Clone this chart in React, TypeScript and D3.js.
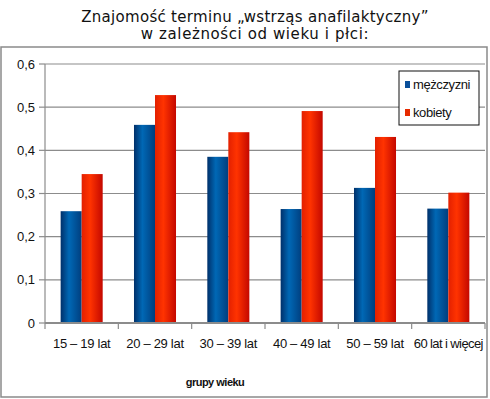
import React from "react";
import * as d3 from "d3";

const categories = ["15 – 19 lat", "20 – 29 lat", "30 – 39 lat", "40 – 49 lat", "50 – 59 lat", "60 lat i więcej"];
const series = ["mężczyzni", "kobiety"];
const men = [0.259, 0.459, 0.385, 0.264, 0.313, 0.265];
const women = [0.345, 0.528, 0.442, 0.491, 0.431, 0.302];
const yTicks = [0, 0.1, 0.2, 0.3, 0.4, 0.5, 0.6];

const width = 490;
const height = 399;
const margin = { top: 64, right: 5, bottom: 76, left: 45 };

const App = () => {
  const x0 = d3
    .scaleBand()
    .domain(categories)
    .range([margin.left, width - margin.right]);

  const x1 = d3
    .scaleBand()
    .domain(series)
    .range([0, x0.bandwidth()])
    .paddingOuter(0.745)
    .paddingInner(0);

  const y = d3
    .scaleLinear()
    .domain([0, 0.6])
    .range([height - margin.bottom, margin.top]);

  const fmt = (v) => d3.format(".1f")(v).replace(".", ",").replace(/^0,0$/, "0");
  const values = [men, women];
  const fills = ["url(#gBlue)", "url(#gRed)"];
  const swatch = ["#0a4f9a", "#e62a00"];

  return (
    <svg
      width={width}
      height={height}
      style={{ position: "absolute", left: 0, top: 0, background: "#fff" }}
      fontFamily="Liberation Sans, Arial, sans-serif"
    >
      <defs>
        <linearGradient id="gBlue" x1="0" x2="1" y1="0" y2="0">
          <stop offset="0" stopColor="#00306a" />
          <stop offset="0.4" stopColor="#0068b5" />
          <stop offset="1" stopColor="#003e7e" />
        </linearGradient>
        <linearGradient id="gRed" x1="0" x2="1" y1="0" y2="0">
          <stop offset="0" stopColor="#e32000" />
          <stop offset="0.4" stopColor="#ff3300" />
          <stop offset="1" stopColor="#c40800" />
        </linearGradient>
      </defs>

      {/* title */}
      <g fontFamily="DejaVu Sans, sans-serif" fontSize={15} fill="#111" textAnchor="middle">
        <text x={255} y={22} letterSpacing={0.3}>
          Znajomość terminu „wstrząs anafilaktyczny”
        </text>
        <text x={255} y={39} letterSpacing={0.6}>
          w zależności od wieku i płci:
        </text>
      </g>

      {/* frame */}
      <rect x={1} y={47} width={486} height={350} fill="none" stroke="#8a8a8a" strokeWidth={1.5} />

      {/* grid + y axis */}
      {yTicks.map((t) => (
        <g key={t}>
          {t > 0 && (
            <line x1={margin.left} x2={width - margin.right} y1={y(t)} y2={y(t)} stroke="#8c8c8c" strokeWidth={1.2} />
          )}
          <line x1={margin.left - 6} x2={margin.left} y1={y(t)} y2={y(t)} stroke="#8c8c8c" strokeWidth={1.2} />
          <text x={35} y={y(t)} dy="0.35em" textAnchor="end" fontSize={13} fill="#111">
            {fmt(t)}
          </text>
        </g>
      ))}
      <line x1={margin.left} x2={margin.left} y1={margin.top} y2={y(0)} stroke="#8c8c8c" strokeWidth={1.2} />

      {/* bars */}
      {categories.map((c, i) => (
        <g key={c} transform={`translate(${x0(c)},0)`}>
          {series.map((s, k) => (
            <rect
              key={s}
              x={x1(s)}
              y={y(values[k][i])}
              width={x1.bandwidth()}
              height={y(0) - y(values[k][i])}
              fill={fills[k]}
            />
          ))}
        </g>
      ))}

      {/* x axis */}
      <line x1={margin.left} x2={width - margin.right} y1={y(0)} y2={y(0)} stroke="#8c8c8c" strokeWidth={2} />
      {[...categories.map((c) => x0(c)), width - margin.right].map((v, i) => (
        <line key={i} x1={v} x2={v} y1={y(0)} y2={y(0) + 6} stroke="#8c8c8c" strokeWidth={1.2} />
      ))}
      {categories.map((c) => (
        <text
          key={c}
          x={x0(c) + x0.bandwidth() / 2}
          y={348}
          textAnchor="middle"
          fontSize={13}
          fill="#111"
          letterSpacing={c.startsWith("60") ? -0.6 : -0.3}
        >
          {c}
        </text>
      ))}
      <text x={215} y={386} textAnchor="middle" fontSize={11} fontWeight="bold" letterSpacing={-0.5} fill="#111">
        grupy wieku
      </text>

      {/* legend */}
      <rect x={399} y={71} width={80} height={54} fill="#fff" stroke="#111" strokeWidth={1} />
      {series.map((s, k) => (
        <g key={s} transform={`translate(405,${81 + k * 28})`}>
          <rect width={5} height={7} fill={swatch[k]} />
          <text x={8} y={8} fontSize={13} fill="#111" letterSpacing={-0.4}>
            {s}
          </text>
        </g>
      ))}
    </svg>
  );
};

export default App;
